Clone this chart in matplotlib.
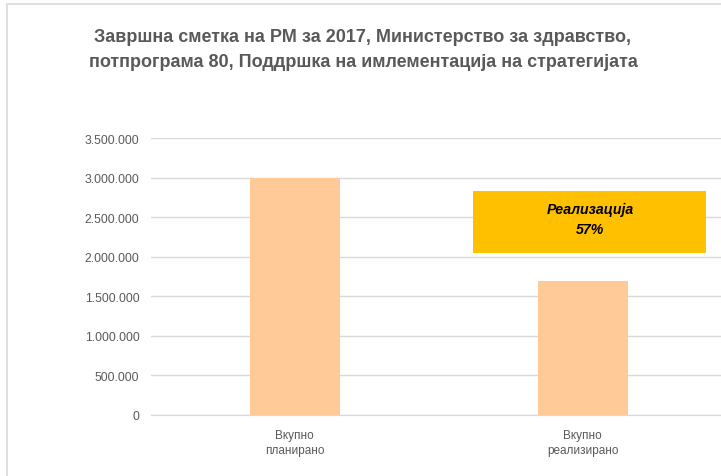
import matplotlib

matplotlib.use("Agg")
import matplotlib.pyplot as plt
from matplotlib.patches import Rectangle
from matplotlib.ticker import FuncFormatter, MultipleLocator


categories = ["Вкупно\nпланирано", "Вкупно\nреализирано"]
values = [3000000, 1700000]
title = ("Завршна сметка на РМ за 2017, Министерство за здравство,\n"
         "потпрограма 80, Поддршка на имлементација на стратегијата")

W, H = 721, 477
FONT = ["Liberation Sans", "DejaVu Sans"]
GREY = "#595959"


def px(x, y):
    # pixel coords (top-left origin) -> figure fraction
    return x / W, 1 - y / H


def dotted(v, pos):
    return f"{int(v):,}".replace(",", ".")


def main():
    plt.rcParams["font.family"] = FONT
    fig = plt.figure(figsize=(W / 100, H / 100), dpi=100)
    fig.patch.set_facecolor("white")

    # chart frame (cropped on right/bottom in the reference)
    x0, y0 = px(7, 5)
    fig.patches.append(Rectangle((x0, -0.1), 1.2, y0 + 0.1, transform=fig.transFigure,
                                 fill=False, edgecolor="#d9d9d9", lw=1.2, clip_on=False))

    left, top = px(150.5, 139.3)
    right, bottom = px(727, 416)
    ax = fig.add_axes([left, bottom, right - left, top - bottom])

    x = range(len(categories))
    ax.bar(x, values, width=0.3125, color="#FFCA98", zorder=2)
    ax.set_xlim(-0.5, len(categories) - 0.5)
    ax.set_ylim(0, 3500000)
    ax.yaxis.set_major_locator(MultipleLocator(500000))
    ax.yaxis.set_major_formatter(FuncFormatter(dotted))
    ax.grid(axis="y", color="#d9d9d9", lw=1.0, zorder=0)
    ax.set_axisbelow(True)
    for s in ["top", "left", "right"]:
        ax.spines[s].set_visible(False)
    ax.spines["bottom"].set_color("#d9d9d9")
    ax.set_xticks(list(x))
    ax.set_xticklabels(categories, fontsize=8.5, color=GREY, linespacing=1.35)
    ax.tick_params(axis="both", length=0, labelcolor=GREY)
    ax.tick_params(axis="y", labelsize=8.8, pad=8)
    ax.tick_params(axis="x", pad=10)

    tx, ty = px(363, 50)
    fig.text(tx, ty, title, ha="center", va="center", fontsize=13, fontweight="bold",
             color=GREY, linespacing=1.55)

    # realisation badge
    bx0, by0 = px(473, 253.5)
    bx1, by1 = px(706, 192)
    fig.patches.append(Rectangle((bx0, by0), bx1 - bx0, by1 - by0, transform=fig.transFigure,
                                 facecolor="#FFC000", edgecolor="none", zorder=3))
    pct = round(values[1] / values[0] * 100)
    cx, cy = px(590, 220)
    fig.text(cx, cy, f"Реализација\n{pct}%", ha="center", va="center", fontsize=10.2,
             fontweight="bold", fontstyle="italic", color="black", linespacing=1.5, zorder=4)

    fig.savefig("out.png", dpi=100)


if __name__ == "__main__":
    main()
